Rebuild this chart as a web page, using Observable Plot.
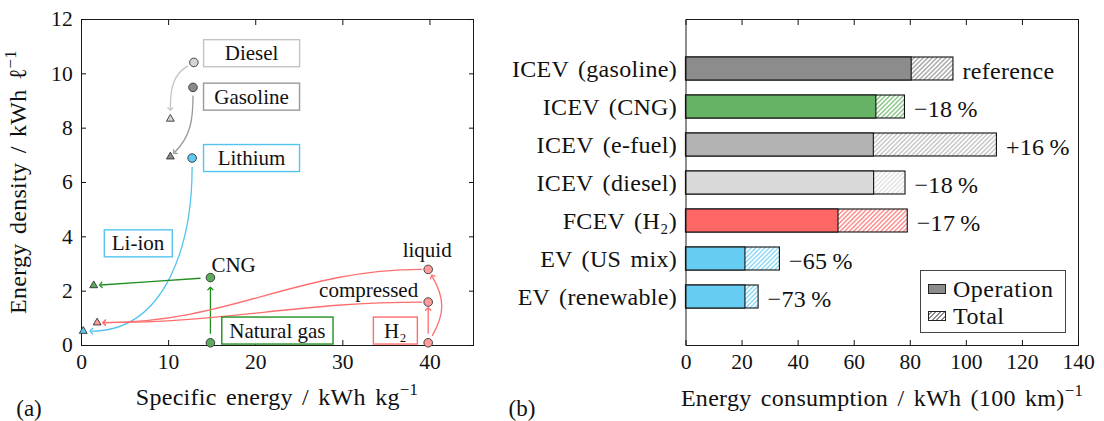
<!DOCTYPE html>
<html>
<head>
<meta charset="utf-8">
<script src="https://cdn.jsdelivr.net/npm/d3@7"></script>
<script src="https://cdn.jsdelivr.net/npm/@observablehq/plot@0.6"></script>
<style>
  html, body { margin: 0; background: #fff; }
  #fig { position: relative; width: 1104px; height: 421px; overflow: hidden;
         font-family: "Liberation Serif", serif; color: #111; }
  #fig > svg { position: absolute; top: 0; overflow: visible; }
  .t { position: absolute; white-space: nowrap; line-height: 1; transform: translate(-50%, -50%);
       font-size: 24px; letter-spacing: 0.3px; word-spacing: 3px; }
  .t.rot { transform: translate(-50%, -50%) rotate(-90deg); }
  .t sup { font-size: 0.7em; line-height: 0; vertical-align: baseline; position: relative; top: -0.6em; }
  .tag { position: absolute; font-size: 23px; line-height: 1; transform: translate(-50%, -50%); }
  g[aria-label="y-axis tick label"] { letter-spacing: 0.3px; word-spacing: 3px; }
  #legend { position: absolute; left: 920px; top: 270px; width: 146px; height: 63px; box-sizing: border-box;
            border: 1px solid #444; background: #fff; font-size: 24px; letter-spacing: 0.5px; }
  #legend .row { position: absolute; left: 7px; height: 26px; line-height: 26px; display: flex; align-items: center; }
  #legend .sw { width: 18px; height: 10px; box-sizing: border-box; border: 1px solid #222; margin-right: 7px; }
</style>
</head>
<body>
<div id="fig">
  <div class="t" style="left:277px; top:397px">Specific energy / kWh kg<sup>−1</sup></div>
  <div class="t rot" style="left:18px; top:182px">Energy density / kWh ℓ<sup>−1</sup></div>
  <div class="t" style="left:882px; top:398px">Energy consumption / kWh (100 km)<sup>−1</sup></div>
  <div class="tag" style="left:29px; top:408px">(a)</div>
  <div class="tag" style="left:522px; top:408px">(b)</div>
</div>
<script>
// ---------- panel (a): energy carriers and their storage systems ----------
const mediaNames    = ["Diesel", "Gasoline", "Lithium", "CNG", "Natural gas", "liquid H₂", "compressed H₂", "H₂"];
const mediaSpecific = [12.9, 12.8, 12.7, 14.8, 14.8, 39.8, 39.8, 39.8];      // kWh/kg
const mediaDensity  = [10.42, 9.5, 6.9, 2.5, 0.1, 2.8, 1.6, 0.1];           // kWh/l
const mediaFamily   = ["diesel", "gasoline", "lithium", "gas", "gas", "h2", "h2", "h2"];

const systemNames    = ["Diesel tank", "Gasoline tank", "Li-ion pack", "CNG tank", "H₂ tank"];
const systemSpecific = [10.2, 10.2, 0.2, 1.4, 1.8];
const systemDensity  = [8.34, 6.95, 0.53, 2.21, 0.84];
const systemFamily   = ["diesel", "gasoline", "lithium", "gas", "h2"];

// which carrier turns into which (storage, compression, liquefaction)
const conversionFrom = ["Diesel", "Gasoline", "Lithium", "CNG", "Natural gas", "H₂", "H₂", "liquid H₂", "compressed H₂"];
const conversionTo   = ["Diesel tank", "Gasoline tank", "Li-ion pack", "CNG tank", "CNG", "compressed H₂", "liquid H₂", "H₂ tank", "H₂ tank"];

// ---------- panel (b): vehicle energy consumption ----------
const vehicles  = ["ICEV (gasoline)", "ICEV (CNG)", "ICEV (e-fuel)", "ICEV (diesel)", "FCEV (H₂)", "EV (US mix)", "EV (renewable)"];
const operation = [80.5, 67.9, 67.0, 67.1, 54.4, 21.2, 21.2];     // kWh per 100 km
const total     = [95.4, 78.1, 110.9, 78.3, 79.1, 33.5, 25.9];    // kWh per 100 km
const xTicksB   = [0, 20, 40, 60, 80, 100, 120, 140];
const xTicksA   = [0, 10, 20, 30, 40];
const yTicksA   = [0, 2, 4, 6, 8, 10, 12];

// ---------- styling ----------
const familyStyle = {
  diesel:   {fill: "#d4d4d4", line: "#c4c4c4"},
  gasoline: {fill: "#8a8a8a", line: "#999999"},
  lithium:  {fill: "#5ec9f2", line: "#55c4ef"},
  gas:      {fill: "#5aab5a", line: "#1f8f1f"},
  h2:       {fill: "#ff9c9c", line: "#ff6e6e"}
};
const vehicleColor = ["#8c8c8c", "#66b366", "#b3b3b3", "#d9d9d9", "#ff6666", "#66ccf2", "#66ccf2"];

// arrow geometry: leaving / arriving angles (degrees, counter-clockwise) and gaps in px
const arrowShape = [
  {out: 210, in: 90, trimStart: 7, trimEnd: 10},
  {out: 270, in: 45, trimStart: 8, trimEnd: 6},
  {out: 270, in: 0, trimStart: 9, trimEnd: 8},
  {trimStart: 10, trimEnd: 7},
  {trimStart: 9, trimEnd: 11},
  {trimStart: 9, trimEnd: 7},
  {out: 60, in: -60, trimStart: 8, trimEnd: 8, looseness: 1.1},
  {out: 180, in: 0, trimStart: 6, trimEnd: 7},
  {out: 180, in: 0, trimStart: 6, trimEnd: 7}
];

// callout placement in data coordinates
const callouts = [
  {text: "Diesel", x: 19.52, y: 10.75, family: "diesel", boxed: true, minWidth: 96},
  {text: "Gasoline", x: 19.52, y: 9.15, family: "gasoline", boxed: true, minWidth: 96},
  {text: "Lithium", x: 19.52, y: 6.89, family: "lithium", boxed: true, minWidth: 96},
  {text: "Li-ion", x: 6.49, y: 3.75, family: "lithium", boxed: true},
  {text: "Natural gas", x: 22.49, y: 0.54, family: "gas", boxed: true},
  {text: "H₂", x: 36.03, y: 0.54, family: "h2", boxed: true, minWidth: 44},
  {text: "CNG", x: 17.46, y: 2.95},
  {text: "liquid", x: 39.68, y: 3.5},
  {text: "compressed", x: 32.96, y: 2.03}
];

// ---------- data tables ----------
const media = mediaNames.map((name, i) => ({name, specific: mediaSpecific[i], density: mediaDensity[i], family: mediaFamily[i]}));
const systems = systemNames.map((name, i) => ({name, specific: systemSpecific[i], density: systemDensity[i], family: systemFamily[i]}));
const lookup = new Map([...media, ...systems].map(d => [d.name, d]));
const conversions = conversionFrom.map((from, i) => {
  const a = lookup.get(from), b = lookup.get(conversionTo[i]);
  return {x1: a.specific, y1: a.density, x2: b.specific, y2: b.density, family: a.family, shape: arrowShape[i]};
});
const rows = vehicles.map((vehicle, i) => {
  const change = Math.round((total[i] / total[0] - 1) * 100);
  return {
    vehicle, operation: operation[i], total: total[i], color: vehicleColor[i], hatch: `url(#hatch-${i})`,
    label: i === 0 ? "reference" : `${change > 0 ? "+" : "−"}${Math.abs(change)}\u2009%`
  };
});

// A cubic Bézier between two points with given leaving/arriving directions;
// without angles it runs straight along the chord. Ends are pulled in by a few px.
function bentCurve({out = null, in: inn = null, trimStart = 0, trimEnd = 0, looseness = 1} = {}) {
  const rad = Math.PI / 180;
  return (context) => {
    let pts = [];
    return {
      areaStart() {}, areaEnd() {},
      lineStart() { pts = []; },
      point(x, y) { pts.push([+x, +y]); },
      lineEnd() {
        let [x0, y0] = pts[0], [x1, y1] = pts[pts.length - 1];
        const chord = Math.atan2(-(y1 - y0), x1 - x0) / rad;
        const a = out == null ? chord : out, b = inn == null ? chord + 180 : inn;
        const ua = [Math.cos(a * rad), -Math.sin(a * rad)], ub = [Math.cos(b * rad), -Math.sin(b * rad)];
        x0 += trimStart * ua[0]; y0 += trimStart * ua[1];
        x1 += trimEnd * ub[0]; y1 += trimEnd * ub[1];
        const d = 0.3915 * looseness * Math.hypot(x1 - x0, y1 - y0);
        context.moveTo(x0, y0);
        context.bezierCurveTo(x0 + d * ua[0], y0 + d * ua[1], x1 + d * ub[0], y1 + d * ub[1], x1, y1);
      }
    };
  };
}

const fontStyle = {fontFamily: "'Liberation Serif', serif", fontSize: "21.5px", color: "#111", background: "transparent", overflow: "visible"};

const panelA = Plot.plot({
  width: 490, height: 421,
  marginLeft: 81, marginRight: 17, marginTop: 19, marginBottom: 76,
  style: fontStyle,
  x: {domain: [0, 45]},
  y: {domain: [0, 12]},
  color: {type: "identity"},
  marks: [
    Plot.frame({stroke: "#1a1a1a"}),
    Plot.axisX(xTicksA, {anchor: "bottom", tickSize: -5, tickPadding: 13, label: null}),
    Plot.axisX(xTicksA, {anchor: "top", tickSize: -5, tickFormat: () => "", label: null}),
    Plot.axisY(yTicksA, {anchor: "left", tickSize: -5, tickPadding: 13.5, label: null}),
    Plot.axisY(yTicksA, {anchor: "right", tickSize: -5, tickFormat: () => "", label: null}),
    ...conversions.map(c => Plot.link([c], {
      x1: "x1", y1: "y1", x2: "x2", y2: "y2",
      stroke: familyStyle[c.family].line, strokeWidth: 1.3,
      curve: bentCurve(c.shape), markerEnd: "arrow"
    })),
    Plot.dot(systems, {x: "specific", y: "density", symbol: "triangle", r: 2.9,
      fill: d => familyStyle[d.family].fill, stroke: "#333", strokeWidth: 0.9}),
    Plot.dot(media, {x: "specific", y: "density", r: 4.3,
      fill: d => familyStyle[d.family].fill, stroke: "#333", strokeWidth: 0.9}),
    Plot.text(callouts, {x: "x", y: "y", text: "text", fontSize: 21, fill: "#111"})
  ]
});

const panelB = Plot.plot({
  width: 614, height: 421,
  marginLeft: 195.5, marginRight: 26, marginTop: 19, marginBottom: 76,
  style: fontStyle,
  x: {domain: [0, 140]},
  y: {domain: vehicles, paddingInner: 0.4, paddingOuter: 0.9},
  color: {type: "identity"},
  marks: [
    Plot.barX(rows, {y: "vehicle", x: "total", fill: "hatch", stroke: "#111", strokeWidth: 1.1}),
    Plot.barX(rows, {y: "vehicle", x: "operation", fill: "color", stroke: "#111", strokeWidth: 1.1}),
    Plot.text(rows, {y: "vehicle", x: "total", text: "label", textAnchor: "start", dx: 9, dy: 2, fontSize: 24, fill: "#111"}),
    Plot.frame({stroke: "#1a1a1a"}),
    Plot.axisX(xTicksB, {anchor: "bottom", tickSize: -5, tickPadding: 13, label: null}),
    Plot.axisX(xTicksB, {anchor: "top", tickSize: -5, tickFormat: () => "", label: null}),
    Plot.axisY({anchor: "left", tickSize: 0, tickPadding: 9, fontSize: 24, label: null})
  ]
});

// hatch patterns for the "total" share of each bar
const defs = d3.select(panelB).insert("defs", ":first-child");
vehicleColor.forEach((c, i) => {
  const p = defs.append("pattern").attr("id", `hatch-${i}`).attr("patternUnits", "userSpaceOnUse")
    .attr("width", 3.2).attr("height", 3.2).attr("patternTransform", "rotate(45)");
  p.append("rect").attr("width", 3.2).attr("height", 3.2).attr("fill", "#fff");
  p.append("line").attr("x1", 1.6).attr("x2", 1.6).attr("y1", 0).attr("y2", 3.2)
    .attr("stroke", c).attr("stroke-width", 1.1);
});

const fig = document.getElementById("fig");
panelA.style.left = "0px";
panelB.style.left = "490px";
fig.append(panelA, panelB);

// framed callouts: a white box with a coloured border behind each boxed label
const boxedByText = new Map(callouts.filter(d => d.boxed).map(d => [d.text, d]));
panelA.querySelectorAll("text").forEach(t => {
  const d = boxedByText.get(t.textContent);
  if (!d) return;
  const bb = t.getBBox(), padX = 7.5, padY = 1.5;
  const w = Math.max(bb.width + 2 * padX, d.minWidth || 0);
  const r = document.createElementNS("http://www.w3.org/2000/svg", "rect");
  r.setAttribute("x", bb.x + bb.width / 2 - w / 2);
  r.setAttribute("y", bb.y - padY);
  r.setAttribute("width", w);
  r.setAttribute("height", bb.height + 2 * padY);
  r.setAttribute("fill", "#fff");
  r.setAttribute("stroke", familyStyle[d.family].line);
  r.setAttribute("stroke-width", 1.4);
  const tr = t.getAttribute("transform");
  if (tr) r.setAttribute("transform", tr);
  t.parentNode.insertBefore(r, t);
});

// slightly wider setting for the change labels
const changeLabels = new Set(rows.map(d => d.label));
panelB.querySelectorAll("text").forEach(t => {
  if (changeLabels.has(t.textContent)) t.style.letterSpacing = "0.3px";
});

// legend
const legend = document.createElement("div");
legend.id = "legend";
legend.innerHTML =
  `<div class="row" style="top:4.5px"><span class="sw" style="background:${vehicleColor[0]}"></span>Operation</div>` +
  `<div class="row" style="top:31.5px"><span class="sw" style="background:repeating-linear-gradient(135deg, #fff 0 1px, ${vehicleColor[0]} 1px 2.2px, #fff 2.2px 3.2px)"></span>Total</div>`;
fig.append(legend);
</script>
</body>
</html>
